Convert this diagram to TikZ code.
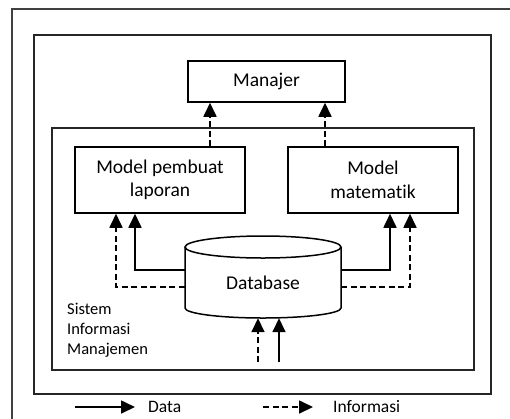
\documentclass[tikz,border=0pt]{standalone}
\usepackage{fontspec}
\setmainfont{Carlito}[Ligatures={NoCommon}]
\usetikzlibrary{arrows.meta,calc}
\begin{document}
\begin{tikzpicture}[x=1pt,y=-1pt,
  frame/.style={draw=black!85,line width=1.8pt,inner sep=0pt},
  box/.style={draw,line width=1.5pt,inner sep=0pt,align=center,font=\fontsize{19.5}{23.5}\selectfont},
  data/.style={line width=1.7pt,-{Triangle[width=13pt,length=14pt]}},
  info/.style={line width=1.7pt,dash pattern=on 6pt off 3.5pt,-{Triangle[width=13pt,length=14pt]}},
  lbl/.style={inner sep=0pt,font=\fontsize{17.5}{20}\selectfont}]
\useasboundingbox (0,0) rectangle (510,418);
\clip (0,0) rectangle (510,418);
% outer frame (extends beyond the page)
\draw[draw=black!75,line width=2pt] (12,440) -- (12,9) -- (530,9);
% frames
\node[frame,minimum width=457pt,minimum height=359pt] (org) at (262.5,214.5) {};
\node[frame,minimum width=422pt,minimum height=242pt] (sim) at (263,249) {};
% boxes
\node[box,minimum width=157pt,minimum height=41pt] (manajer) at (266.5,81.5) {Manajer};
\node[box,minimum width=170pt,minimum height=66pt] (mpl) at (160,180) {Model pembuat\\laporan};
\node[box,minimum width=170pt,minimum height=66pt] (mm) at (373,180) {Model\\matematik};
% database cylinder
\draw[line width=1.5pt,fill=white] (185,247) -- (185,308)
  arc[start angle=180,end angle=360,x radius=78pt,y radius=10pt] -- (341,247);
\draw[line width=1.5pt] (263,247) ellipse[x radius=78pt,y radius=11pt];
\node[inner sep=0pt,minimum width=156pt,minimum height=71pt,font=\fontsize{19.5}{23.5}\selectfont,text depth=0pt] (db) at (263,282.5) {Database};
% sistem informasi manajemen label
\node[inner sep=0pt,anchor=west,align=left,font=\fontsize{16.5}{20}\selectfont] (simlbl) at (67,330) {Sistem\\Informasi\\Manajemen};
% connectors to manajer
\draw[info] ([xshift=50pt]mpl.north) -- ([xshift=50pt]mpl.north |- manajer.south);
\draw[info] ([xshift=-48pt]mm.north) -- ([xshift=-48pt]mm.north |- manajer.south);
% database to models
\draw[data] ([yshift=12.5pt]db.west) -| ([xshift=-25pt]mpl.south);
\draw[info] ([yshift=-4.5pt]db.west) -| ([xshift=-44pt]mpl.south);
\draw[data] ([yshift=12.5pt]db.east) -| ([xshift=17pt]mm.south);
\draw[info] ([yshift=-4.5pt]db.east) -| ([xshift=37pt]mm.south);
% inputs to database
\coordinate (inI) at (258,362);
\coordinate (inD) at (279,362);
\draw[info] (inI) -- (inI |- db.south);
\draw[data] (inD) -- (inD |- db.south);
% legend
\coordinate (lds) at (75,407);
\coordinate (lde) at (135,407);
\coordinate (lis) at (263,407);
\coordinate (lie) at (313,407);
\draw[data] (lds) -- (lde);
\draw[info] (lis) -- (lie);
\node[lbl,anchor=west] (ld) at (148,407) {Data};
\node[lbl,anchor=west] (li) at (333,407) {Informasi};
\end{tikzpicture}
\end{document}
